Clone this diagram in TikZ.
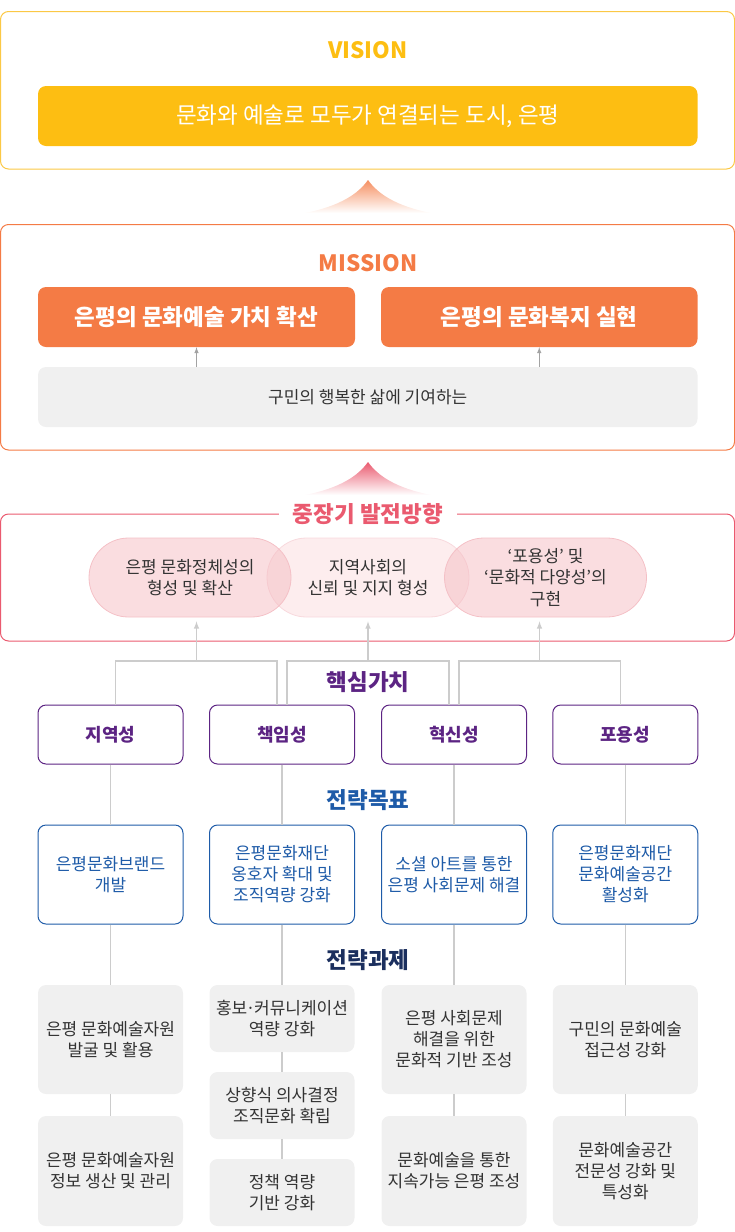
\documentclass[tikz,border=0pt]{standalone}
\usepackage{fontspec}
\setmainfont{Noto Sans CJK KR}
\usepackage{tikz}
\usetikzlibrary{shapes.misc}
\usepackage{xcolor}

\definecolor{visgelb}{HTML}{FDBE12}
\definecolor{visrand}{HTML}{FBC845}
\definecolor{misorange}{HTML}{F47B45}
\definecolor{pinkrot}{HTML}{EA5A6F}
\definecolor{pillrosa}{HTML}{F5BCC2}
\definecolor{pillrand}{HTML}{F4C0C6}
\definecolor{pillhell}{HTML}{FDEDEE}
\definecolor{lila}{HTML}{5C2483}
\definecolor{blau}{HTML}{1E5BA8}
\definecolor{navy}{HTML}{1B2F5E}
\definecolor{hellgrau}{HTML}{F0F0F0}
\definecolor{liniengrau}{HTML}{CCCCCC}
\definecolor{dunkel}{HTML}{333333}

\begin{document}
\begin{tikzpicture}[x=1pt,y=-1pt,>=latex,
  rahmen/.style={rounded corners=8pt, line width=1pt},
  titel/.style={inner sep=2pt, font=\bfseries\fontsize{22.5}{26}\selectfont},
  balken/.style={rectangle, rounded corners=8pt, minimum height=60pt, inner sep=0pt, text=white},
  pille/.style={rectangle, rounded corners=39.5pt, minimum width=202pt, minimum height=79pt, inner sep=0pt, line width=0.8pt, align=center, text=dunkel, font=\fontsize{17}{21.5}\selectfont},
  wert/.style={rectangle, draw=lila, line width=1pt, rounded corners=8pt, fill=white, minimum width=145pt, minimum height=59pt, inner sep=0pt, text=lila, font=\bfseries\fontsize{18}{22}\selectfont},
  ziel/.style={rectangle, draw=blau, line width=1pt, rounded corners=8pt, fill=white, minimum width=145pt, minimum height=99pt, inner sep=0pt, align=center, text=blau, font=\fontsize{17}{21}\selectfont},
  aufgabe/.style={rectangle, fill=hellgrau, rounded corners=8pt, minimum width=145pt, inner sep=0pt, align=center, text=dunkel, font=\fontsize{17}{21}\selectfont},
  linie/.style={draw=liniengrau, line width=1.5pt},
  pfeil/.style={->, draw=liniengrau!80!black, line width=1pt}]

\useasboundingbox (0,0) rectangle (735,1232);

%Vision
\draw[rahmen, draw=visrand] (0.5,11.5) rectangle (734.5,169);
\node[titel, text=visgelb] (vistitel) at (368,50) {VISION};
\node[balken, fill=visgelb, minimum width=659.5pt, font=\fontsize{22.5}{26}\selectfont] (vision) at (367.75,116) {문화와 예술로 모두가 연결되는 도시, 은평};

%Pfeil Mission -> Vision
\shade[top color=misorange!85, bottom color=white] (305,213) .. controls (340,206) and (358,194) .. (368,180) .. controls (378,194) and (396,206) .. (431,213) -- cycle;

%Mission
\draw[rahmen, draw=misorange] (0.5,224.5) rectangle (734.5,450);
\node[titel, text=misorange] (mistitel) at (368,263) {MISSION};
\node[balken, fill=misorange, minimum width=317pt, font=\bfseries\fontsize{22.5}{26}\selectfont] (misA) at (196.5,317) {은평의 문화예술 가치 확산};
\node[balken, fill=misorange, minimum width=316.5pt, font=\bfseries\fontsize{22.5}{26}\selectfont] (misB) at (539.25,317) {은평의 문화복지 실현};
\node[aufgabe, minimum width=659.5pt, minimum height=60pt] (buerger) at (367.75,397) {구민의 행복한 삶에 기여하는};
\draw[pfeil] (buerger.north -| misA) -- (misA.south);
\draw[pfeil] (buerger.north -| misB) -- (misB.south);

%Pfeil Richtung -> Mission
\shade[top color=pinkrot, bottom color=white] (305,495) .. controls (340,488) and (358,476) .. (368,462) .. controls (378,476) and (396,488) .. (431,495) -- cycle;

%Entwicklungsrichtung
\draw[rahmen, draw=pinkrot] (0.5,514) rectangle (734.5,641);
\node[titel, text=pinkrot, fill=white, inner xsep=14pt] (richtung) at (368,514) {중장기 발전방향};
\node[pille, fill=pillhell, draw=pillrand!60] (dirB) at (368,577.5) {지역사회의\\신뢰 및 지지 형성};
\node[pille, fill=pillrosa, fill opacity=0.5, text opacity=1, draw=pillrand] (dirA) at (190,577.5) {은평 문화정체성의\\형성 및 확산};
\node[pille, fill=pillrosa, fill opacity=0.5, text opacity=1, draw=pillrand] (dirC) at (545.5,577.5) {‘포용성’ 및\\‘문화적 다양성’의\\구현};

%Kernwerte
\node[titel, text=lila] (kern) at (368,682) {핵심가치};
\node[wert] (valA) at (110.5,734.5) {지역성};
\node[wert] (valB) at (282,734.5) {책임성};
\node[wert] (valC) at (454,734.5) {혁신성};
\node[wert] (valD) at (625.25,734.5) {포용성};

\coordinate (j1) at (196.5,661);
\coordinate (j2) at (368,661);
\coordinate (j3) at (539.5,661);
\draw[linie] ([xshift=5pt]valA.north) |- (j1) -| ([xshift=-5pt]valB.north);
\draw[linie] ([xshift=5pt]valB.north) |- (j2) -| ([xshift=-5pt]valC.north);
\draw[linie] ([xshift=5pt]valC.north) |- (j3) -| ([xshift=-5pt]valD.north);
\draw[linie, ->, shorten >=4pt] (j1) -- (j1 |- dirA.south);
\draw[linie, ->, shorten >=4pt] (j2) -- (j2 |- dirB.south);
\draw[linie, ->, shorten >=4pt] (j3) -- (j3 |- dirC.south);

%Strategische Ziele
\node[titel, text=blau] (zieltitel) at (368,800) {전략목표};
\node[ziel] (goalA) at (110.5,874.5) {은평문화브랜드\\개발};
\node[ziel] (goalB) at (282,874.5) {은평문화재단\\옹호자 확대 및\\조직역량 강화};
\node[ziel] (goalC) at (454,874.5) {소셜 아트를 통한\\은평 사회문제 해결};
\node[ziel] (goalD) at (625.25,874.5) {은평문화재단\\문화예술공간\\활성화};

\draw[linie] (valA.south) -- (goalA.north);
\draw[linie] (valB.south) -- (goalB.north);
\draw[linie] (valC.south) -- (goalC.north);
\draw[linie] (valD.south) -- (goalD.north);

%Strategische Aufgaben
\node[titel, text=navy] (aufgtitel) at (368,960) {전략과제};
\node[aufgabe, minimum height=109pt] (tA1) at (110.5,1039.5) {은평 문화예술자원\\발굴 및 활용};
\node[aufgabe, minimum height=110pt] (tA2) at (110.5,1171) {은평 문화예술자원\\정보 생산 및 관리};
\node[aufgabe, minimum height=67pt] (tB1) at (282,1018.5) {홍보\kern-0.08em·\kern-0.08em커뮤니케이션\\역량 강화};
\node[aufgabe, minimum height=67pt] (tB2) at (282,1105.5) {상향식 의사결정\\조직문화 확립};
\node[aufgabe, minimum height=67pt] (tB3) at (282,1192.5) {정책 역량\\기반 강화};
\node[aufgabe, minimum height=109pt] (tC1) at (454,1039.5) {은평 사회문제\\해결을 위한\\문화적 기반 조성};
\node[aufgabe, minimum height=110pt] (tC2) at (454,1171) {문화예술을 통한\\지속가능 은평 조성};
\node[aufgabe, minimum height=109pt] (tD1) at (625.25,1039.5) {구민의 문화예술\\접근성 강화};
\node[aufgabe, minimum height=110pt] (tD2) at (625.25,1171) {문화예술공간\\전문성 강화 및\\특성화};

\draw[linie] (goalA.south) -- (tA1.north);
\draw[linie] (tA1.south) -- (tA2.north);
\draw[linie] (goalB.south) -- (tB1.north);
\draw[linie] (tB1.south) -- (tB2.north);
\draw[linie] (tB2.south) -- (tB3.north);
\draw[linie] (goalC.south) -- (tC1.north);
\draw[linie] (tC1.south) -- (tC2.north);
\draw[linie] (goalD.south) -- (tD1.north);
\draw[linie] (tD1.south) -- (tD2.north);

\end{tikzpicture}
\end{document}
